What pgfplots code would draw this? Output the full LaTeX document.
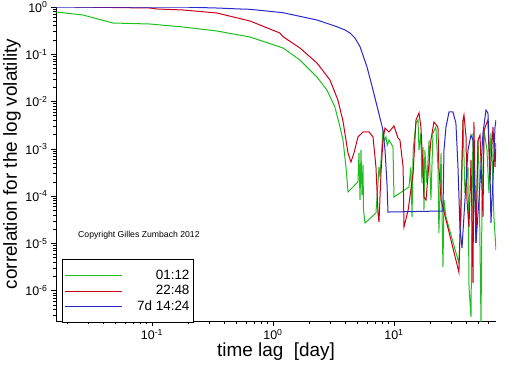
\documentclass[border=0pt]{standalone}
\usepackage{fontspec}
\setmainfont{Liberation Sans}
\usepackage{pgfplots}
\pgfplotsset{compat=1.18}
\definecolor{mygreen}{RGB}{30,190,30}
\definecolor{myred}{RGB}{200,0,25}
\definecolor{myblue}{RGB}{40,40,200}
\begin{document}
\begin{tikzpicture}
\begin{axis}[
  scale only axis, width=440bp, height=314bp,
  xmode=log, ymode=log,
  xmin=0.0161, xmax=69.7, ymin=2.3e-7, ymax=1,
  axis lines*=left,
  axis line style={line width=0.9bp},
  tick align=outside,
  major tick length=5bp, minor tick length=3bp,
  tick style={black, line width=0.7bp},
  xtick={0.1,1,10},
  xticklabels={10\textsuperscript{-1},10\textsuperscript{0},10\textsuperscript{1}},
  minor xtick={0.02,0.03,0.04,0.05,0.06,0.07,0.08,0.09,0.2,0.3,0.4,0.5,0.6,0.7,0.8,0.9,2,3,4,5,6,7,8,9,20,30,40,50,60},
  ytick={1e-6,1e-5,1e-4,1e-3,1e-2,1e-1,1},
  yticklabels={10\textsuperscript{-6},10\textsuperscript{-5},10\textsuperscript{-4},10\textsuperscript{-3},10\textsuperscript{-2},10\textsuperscript{-1},10\textsuperscript{0}},
  minor ytick={3e-7,4e-7,5e-7,6e-7,7e-7,8e-7,9e-7,2e-6,3e-6,4e-6,5e-6,6e-6,7e-6,8e-6,9e-6,2e-5,3e-5,4e-5,5e-5,6e-5,7e-5,8e-5,9e-5,2e-4,3e-4,4e-4,5e-4,6e-4,7e-4,8e-4,9e-4,2e-3,3e-3,4e-3,5e-3,6e-3,7e-3,8e-3,9e-3,0.02,0.03,0.04,0.05,0.06,0.07,0.08,0.09,0.2,0.3,0.4,0.5,0.6,0.7,0.8,0.9},
  tick label style={font=\fontsize{12.5}{12.5}\selectfont},
  xlabel={time lag\ \ [day]},
  ylabel={correlation for the log volatility},
  label style={font=\fontsize{19}{19}\selectfont},
  xlabel style={at={(axis description cs:0.5,-0.1146)}, anchor=base},
  ylabel style={at={(axis description cs:-0.1,0.5)}, anchor=center},
  legend style={at={(rel axis cs:0.0136,0.1975)}, anchor=north west, line width=1bp, fill=white,
    inner xsep=2bp, inner ysep=8bp, font=\fontsize{13.5}{13.5}\selectfont,
    nodes={inner sep=2bp, text height=9.7bp, text depth=2bp}, row sep=0pt},
  legend image code/.code={\draw[#1] plot coordinates {(0bp,0bp) (57bp,0bp)};},
]
\addplot[draw=mygreen, color=mygreen, line width=1bp] coordinates {
(0.0161,0.784) (0.0269,0.677) (0.0476,0.459) (0.0962,0.437) (0.180,0.378) (0.344,0.311)
(0.646,0.232) (0.859,0.182) (1.21,0.136) (1.67,0.0757) (2.31,0.0331) (2.79,0.0176)
(3.25,0.00769) (3.58,0.00290) (3.79,0.00154) (4.01,4.14e-4) (4.17,1.23e-4) (5.04,2.00e-4)
(5.14,8.19e-4) (5.24,8.31e-5) (5.34,9.48e-4) (5.44,1.06e-4) (5.55,4.57e-4) (5.60,5.11e-5)
(5.76,2.71e-5) (7.10,4.41e-5) (7.38,1.90e-4) (7.52,4.14e-4) (7.66,2.55e-4) (8.11,0.00251)
(8.30,0.00150) (8.59,0.00179) (8.80,0.00120) (9.09,0.00154) (9.81,1.10e-3) (10.0,9.62e-5)
(13.3,1.56e-4) (13.8,4.14e-4) (14.1,3.63e-5) (14.4,9.48e-4) (15.2,0.00353) (15.8,0.00408)
(16.1,9.48e-4) (16.7,0.00217) (17.0,1.90e-4) (17.4,1.10e-3) (17.7,5.11e-5) (18.0,9.48e-4)
(18.7,1.90e-4) (19.5,0.00154) (20.2,8.31e-5) (21.0,0.00217) (22.2,0.00290) (23.1,4.14e-4)
(23.5,1.67e-5) (24.5,8.19e-4) (25.4,3.18e-6) (25.9,8.31e-5) (26.9,3.63e-5) (34.4,3.87e-6)
(35.8,3.63e-5) (37.2,0.00408) (38.6,1.17e-4) (40.9,4.14e-4) (41.7,1.20e-6) (43.3,2.79e-7)
(44.2,8.31e-5) (45.0,0.00217) (47.6,1.67e-5) (49.5,0.00154) (50.4,4.14e-4) (52.4,2.0e-7)
(53.4,8.31e-5) (55.5,0.00251) (58.7,9.48e-4) (60.9,1.17e-4) (63.3,0.00217) (64.5,9.48e-4)
(67.0,3.63e-5) (69.7,7.29e-6)
};
\addlegendentry{\makebox[65bp][r]{01:12}}
\addplot[draw=myred, color=myred, line width=1bp] coordinates {
(0.0231,1.0) (0.0962,0.952) (0.110,0.908) (0.180,0.865) (0.344,0.747) (0.646,0.506)
(1.14,0.282) (1.21,0.236) (1.67,0.136) (2.31,0.0655) (2.96,0.0286) (3.44,0.0108)
(3.79,0.00389) (4.17,8.19e-4) (4.41,5.28e-4) (4.67,8.19e-4) (5.04,0.00179) (5.55,0.00228)
(6.22,0.00228) (6.71,0.00179) (7.10,4.14e-4) (7.38,4.41e-5) (7.52,2.85e-5) (7.81,3.09e-4)
(8.11,0.00154) (8.43,0.00277) (9.09,0.00228) (10.0,0.00305) (10.8,0.00170) (11.2,0.00154)
(11.9,4.14e-4) (12.1,2.23e-5) (13.1,5.11e-5) (14.4,3.09e-4) (15.2,0.00408) (16.1,0.00574)
(16.7,0.00290) (17.4,3.09e-4) (17.7,9.62e-5) (18.4,8.31e-5) (20.2,0.00154) (21.4,0.00371)
(23.1,0.00290) (23.5,4.14e-4) (24.5,8.31e-5) (34.4,2.49e-6) (35.8,8.31e-5) (37.2,0.00408)
(37.9,0.00521) (39.4,0.00179) (40.1,8.31e-5) (41.7,2.23e-5) (43.3,5.83e-4) (45.0,1.46e-6)
(45.8,0.00371) (47.6,1.03e-5) (49.5,0.00154) (51.4,0.00197) (54.4,3.63e-5) (55.5,0.00251)
(59.8,0.00408) (62.1,2.20e-4) (65.8,0.00290) (68.4,4.14e-4) (69.7,0.00133)
};
\addlegendentry{\makebox[65bp][r]{22:48}}
\addplot[draw=myblue, color=myblue, line width=1bp] coordinates {
(0.0161,1.0) (0.170,1.0) (0.344,0.952) (0.534,0.908) (0.646,0.894) (1.21,0.758)
(2.31,0.531) (3.38,0.383) (3.94,0.327) (4.33,0.282) (4.76,0.221) (5.24,0.145)
(5.98,0.0547) (6.71,0.0176) (7.38,0.00664) (8.11,0.00251) (8.43,9.48e-4) (8.75,1.90e-4)
(8.92,4.63e-5) (25.4,4.87e-5) (25.9,9.48e-4) (26.9,0.00290) (28.5,0.00603) (30.7,0.00603)
(32.5,0.00353) (33.8,4.14e-4) (35.1,2.23e-5) (36.5,8.03e-6) (38.6,8.31e-5) (40.9,9.48e-4)
(43.3,0.00197) (45.0,0.00154) (46.7,8.31e-5) (47.6,1.03e-5) (50.4,8.31e-5) (54.4,0.00217)
(57.6,0.00664) (59.8,0.00574) (62.1,4.14e-4) (63.3,2.71e-5) (65.8,2.20e-4) (68.4,0.00290)
(69.7,0.00408)
};
\addlegendentry{\makebox[65bp][r]{7d 14:24}}
\node[font=\fontsize{8.7}{8.7}\selectfont] at (axis cs:0.078,1.5e-5) {Copyright Gilles Zumbach 2012};
\end{axis}
\pgfresetboundingbox
\path (current axis.south west) ++(-56bp,-45bp) rectangle ([xshift=16bp,yshift=7bp]current axis.north east);
\end{tikzpicture}
\end{document}
